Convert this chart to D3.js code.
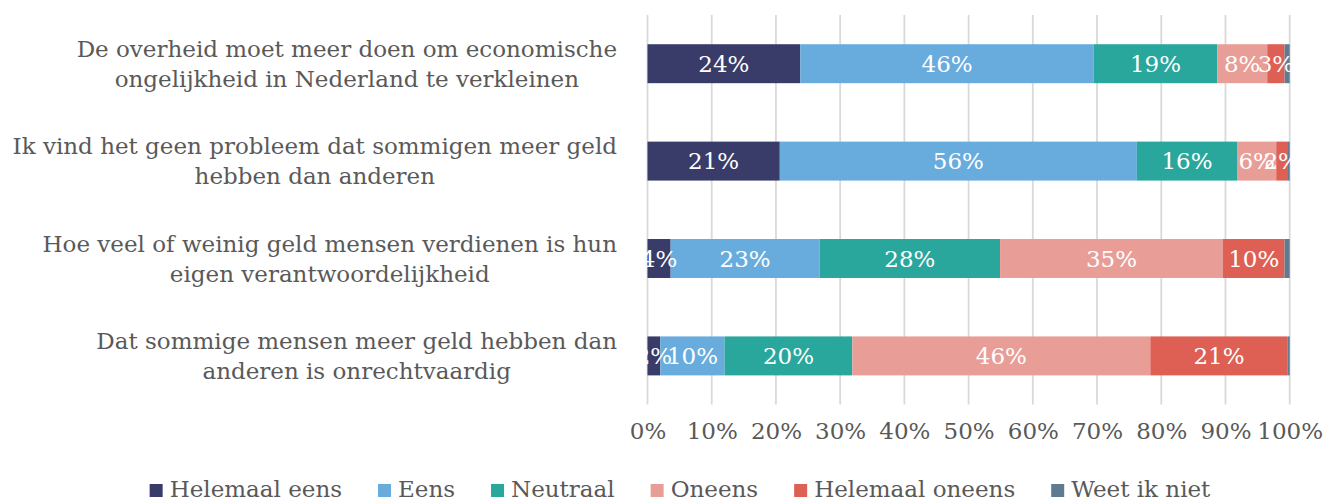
<!DOCTYPE html>
<html>
<head>
<meta charset="utf-8">
<script src="https://cdn.jsdelivr.net/npm/d3@7"></script>
<style>
  html, body { margin: 0; padding: 0; background: #fff; }
  svg { display: block; }
  text { font-family: "DejaVu Serif", "Liberation Serif", serif; }
</style>
</head>
<body>
<svg id="chart" width="1327" height="502"></svg>
<script>
// ---- data ----
const categories = [
  ["De overheid moet meer doen om economische", "ongelijkheid in Nederland te verkleinen"],
  ["Ik vind het geen probleem dat sommigen meer geld", "hebben dan anderen"],
  ["Hoe veel of weinig geld mensen verdienen is hun", "eigen verantwoordelijkheid"],
  ["Dat sommige mensen meer geld hebben dan", "anderen is onrechtvaardig"]
];
const seriesNames = ["Helemaal eens", "Eens", "Neutraal", "Oneens", "Helemaal oneens", "Weet ik niet"];
const helemaalEens   = [23.8, 20.6, 3.6, 2.0];
const eens           = [45.7, 55.6, 23.2, 10.0];
const neutraal       = [19.2, 15.6, 28.1, 19.9];
const oneens         = [7.8, 6.1, 34.7, 46.4];
const helemaalOneens = [2.7, 1.7, 9.6, 21.4];
const weetIkNiet     = [0.8, 0.4, 0.8, 0.3];
const tickValues = [0, 0.1, 0.2, 0.3, 0.4, 0.5, 0.6, 0.7, 0.8, 0.9, 1.0];
const colors = ["#393B68", "#68ACDE", "#2AA79C", "#E99D97", "#DE5F53", "#5E7B92"];
const labelled = [true, true, true, true, true, false];

const seriesValues = [helemaalEens, eens, neutraal, oneens, helemaalOneens, weetIkNiet];
const rows = categories.map((c, i) => {
  const r = { idx: i };
  seriesNames.forEach((s, j) => r[s] = seriesValues[j][i]);
  return r;
});

const svg = d3.select("#chart");
const x = d3.scaleLinear().domain([0, 100]).range([647.5, 1289.7]);
const y = d3.scaleBand().domain(d3.range(categories.length)).range([15, 404.6]).paddingInner(0.6).paddingOuter(0.3);
const textColor = "#595959";
const fs = "23px";

// gridlines
svg.append("g").selectAll("line").data(tickValues).join("line")
  .attr("x1", d => x(d * 100)).attr("x2", d => x(d * 100))
  .attr("y1", 15).attr("y2", 404.5)
  .attr("stroke", "#D9D9D9").attr("stroke-width", 1.8);

// stacked bars
const stack = d3.stack().keys(seriesNames)(rows);
const layers = svg.append("g").selectAll("g").data(stack).join("g")
  .attr("fill", (d, i) => colors[i]);
layers.selectAll("rect").data(d => d).join("rect")
  .attr("x", d => x(d[0]))
  .attr("width", d => x(d[1]) - x(d[0]))
  .attr("y", d => y(d.data.idx))
  .attr("height", y.bandwidth());

// data labels
stack.forEach((layer, i) => {
  if (!labelled[i]) return;
  svg.append("g").selectAll("text").data(layer).join("text")
    .attr("x", d => (x(d[0]) + x(d[1])) / 2)
    .attr("y", d => y(d.data.idx) + y.bandwidth() / 2)
    .attr("dy", "0.36em")
    .attr("text-anchor", "middle")
    .attr("fill", "#fff")
    .style("font-size", fs)
    .text(d => Math.round(d[1] - d[0]) + "%");
});

// category labels
const catG = svg.append("g");
categories.forEach((lines, i) => {
  const cy = y(i) + y.bandwidth() / 2;
  const t = catG.append("text")
    .attr("fill", textColor)
    .style("font-size", fs)
    .attr("text-anchor", "middle");
  lines.forEach((ln, k) => {
    t.append("tspan").attr("x", 0)
      .attr("y", cy + (k - (lines.length - 1) / 2) * 30)
      .attr("dy", "0.36em")
      .text(ln);
  });
  let maxW = 0;
  t.selectAll("tspan").each(function () { maxW = Math.max(maxW, this.getComputedTextLength()); });
  const cx = 617 - maxW / 2;
  t.selectAll("tspan").attr("x", cx);
});

// x axis tick labels
const axis = d3.axisBottom(x).tickValues(tickValues.map(v => v * 100))
  .tickFormat(d => Math.round(d) + "%").tickSize(0).tickPadding(0);
const ax = svg.append("g").attr("transform", "translate(0,423)").call(axis);
ax.select(".domain").remove();
ax.selectAll("text").attr("fill", textColor).style("font-size", fs)
  .style("font-family", '"DejaVu Serif", serif');

// legend
const leg = svg.append("g");
let cursor = 0;
seriesNames.forEach((s, i) => {
  const g = leg.append("g");
  g.append("rect").attr("x", 0).attr("y", 484).attr("width", 13).attr("height", 13).attr("fill", colors[i]);
  const t = g.append("text").attr("x", 20).attr("y", 497).attr("fill", textColor)
    .style("font-size", fs).text(s);
  const w = 20 + t.node().getComputedTextLength();
  g.attr("transform", `translate(${cursor},0)`);
  cursor += w + 36;
});
const total = cursor - 36;
leg.attr("transform", `translate(${680 - total / 2},0)`);
</script>
</body>
</html>
